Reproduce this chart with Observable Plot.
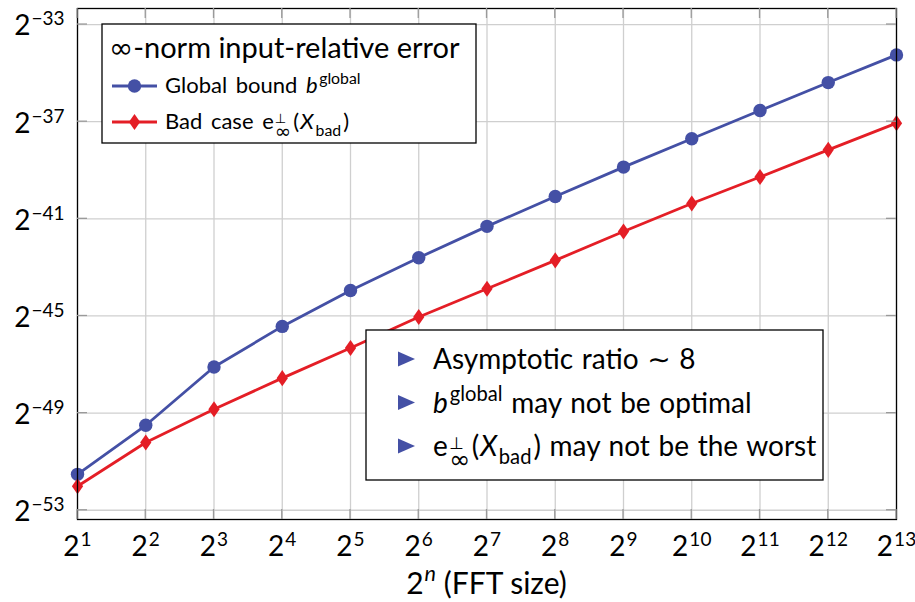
<!DOCTYPE html>
<html>
<head>
<meta charset="utf-8">
<script src="https://cdn.jsdelivr.net/npm/d3@7"></script>
<script src="https://cdn.jsdelivr.net/npm/@observablehq/plot@0.6"></script>
<style>
  html, body { margin: 0; padding: 0; background: #fff; }
  #chart { width: 915px; height: 602px; }
  #chart svg { display: block; }
</style>
</head>
<body>
<div id="chart"></div>
<script>
// FFT size exponents n (x = 2^n) and log2 of the error values
const fftExponents = [1, 2, 3, 4, 5, 6, 7, 8, 9, 10, 11, 12, 13];
const globalBoundLog2 = [-51.52, -49.50, -47.10, -45.43, -43.95, -42.60, -41.31, -40.08, -38.87, -37.70, -36.54, -35.39, -34.25];
const badCaseLog2 = [-52.01, -50.21, -48.84, -47.56, -46.32, -45.04, -43.88, -42.71, -41.52, -40.37, -39.28, -38.16, -37.06];
const yTickExponents = [-53, -49, -45, -41, -37, -33];
const xTickExponents = [1, 2, 3, 4, 5, 6, 7, 8, 9, 10, 11, 12, 13];

// Text pieces: t = text, it = italic, pos = sup/sub/top/bot, under = stack below previous script, sym = symbol font
const legendTitle = [{t: "∞", sym: true}, {t: "-norm input-relative error"}];
const seriesNames = [
  [{t: "Global bound "}, {t: "b", it: true}, {t: "global", pos: "sup", dx: 1.5}],
  [{t: "Bad case "}, {t: "e"}, {t: "⊥", pos: "top", sym: true, dx: 1}, {t: "∞", pos: "bot", sym: true, under: true},
   {t: "(", dx: 2}, {t: "X", it: true, dx: 1}, {t: "bad", pos: "sub", dx: 2}, {t: ")", dx: 2}]
];
const noteLines = [
  [{t: "Asymptotic ratio "}, {t: "∼", sym: true}, {t: " 8"}],
  [{t: "b", it: true}, {t: "global", pos: "sup", dx: 2}, {t: " may not be optimal"}],
  [{t: "e"}, {t: "⊥", pos: "top", sym: true, dx: 1.5}, {t: "∞", pos: "bot", sym: true, under: true},
   {t: "(", dx: 1.5}, {t: "X", it: true, dx: 1}, {t: "bad", pos: "sub", dx: 1.5}, {t: ")", dx: 2}, {t: " may not be the worst"}]
];
const xAxisTitle = [{t: "2"}, {t: "n", it: true, pos: "sup", dx: 1}, {t: " (FFT size)"}];

const FONT = "Lato, 'DejaVu Sans', sans-serif";
const SYMFONT = "'DejaVu Sans', sans-serif";
const BLUE = "#4450a5";
const RED = "#e41e26";
const GRID = "#cfcfcf";

const rows = fftExponents.map((n, i) => ({n, global: globalBoundLog2[i], bad: badCaseLog2[i]}));

// pgfplots-style diamond: taller than wide
const tallDiamond = {
  draw(context, size) {
    const r = Math.sqrt(size / Math.PI);
    const hh = 1.2 * r, hw = 0.84 * r;
    context.moveTo(0, -hh);
    context.lineTo(hw, 0);
    context.lineTo(0, hh);
    context.lineTo(-hw, 0);
    context.closePath();
  }
};

const plot = Plot.plot({
  width: 915,
  height: 602,
  marginLeft: 77,
  marginRight: 19,
  marginTop: 8,
  marginBottom: 83,
  style: {fontFamily: FONT, fontSize: "27px", color: "#000", background: "#fff", overflow: "visible"},
  x: {domain: [1, 13]},
  y: {domain: [-53.38, -32.34]},
  marks: [
    Plot.gridX(xTickExponents, {stroke: GRID, strokeOpacity: 1, strokeWidth: 1.3}),
    Plot.gridY(yTickExponents, {stroke: GRID, strokeOpacity: 1, strokeWidth: 1.3}),
    Plot.line(rows, {x: "n", y: "global", stroke: BLUE, strokeWidth: 2.8}),
    Plot.dot(rows, {x: "n", y: "global", r: 6.7, fill: BLUE, symbol: "circle"}),
    Plot.line(rows, {x: "n", y: "bad", stroke: RED, strokeWidth: 2.8}),
    Plot.dot(rows, {x: "n", y: "bad", r: 6.7, fill: RED, symbol: tallDiamond}),
    Plot.axisX(xTickExponents, {tickSize: 0, tickPadding: 17, tickFormat: d => String(d), label: null, fontSize: 28}),
    Plot.axisY(yTickExponents, {tickSize: 0, tickPadding: 13, dy: 2, tickFormat: d => String(d), label: null, fontSize: 28}),
    Plot.frame({stroke: "#000", strokeWidth: 1.3})
  ]
});

document.getElementById("chart").appendChild(plot);

const svg = d3.select(plot);
const xs = plot.scale("x");
const ys = plot.scale("y");
const [fx0, fx1] = xs.range;
const [fy0, fy1] = ys.range; // bottom, top

// Baseline offset and size (relative to the line's font size) of each script position
const SCRIPT = {
  base: {off: 0, scale: 1},
  sup: {off: -0.42, scale: 0.72},
  sub: {off: 0.3, scale: 0.72},
  top: {off: -0.26, scale: 0.6},   // upper script of a stacked pair
  bot: {off: 0.43, scale: 0.9}     // lower script of a stacked pair
};

// Write a text line with italic / superscript / subscript pieces
function richText(parent, x, y, segs, size, anchor = "start", wordSpacing = 0) {
  const text = parent.append("text")
    .attr("x", x).attr("y", y)
    .attr("font-family", FONT)
    .attr("font-size", size)
    .attr("text-anchor", anchor)
    .attr("word-spacing", wordSpacing)
    .attr("fill", "#000");
  let cur = 0, prev = null;
  for (const s of segs) {
    const p = SCRIPT[s.pos || "base"];
    const off = p.off * size;
    const ts = text.append("tspan").attr("font-size", p.scale * size).attr("dy", off - cur).text(s.t);
    if (s.it) ts.attr("font-style", "italic");
    if (s.sym) ts.attr("font-family", SYMFONT);
    let dx = s.dx || 0;
    if (s.under && prev) dx -= prev.node().getComputedTextLength();
    if (dx) ts.attr("dx", dx);
    cur = off;
    prev = ts;
  }
  return text;
}

// Tick labels as powers of two
function powerLabels(selector, supSize, raise) {
  svg.selectAll(selector).each(function () {
    const sel = d3.select(this);
    const e = sel.text().replace("-", "\u2212");
    sel.text(null);
    sel.append("tspan").text("2");
    sel.append("tspan").attr("font-size", supSize).attr("dy", -raise).attr("dx", 1).text(e);
  });
}
powerLabels('g[aria-label="x-axis tick label"] text', 19, 10);
powerLabels('g[aria-label="y-axis tick label"] text', 19, 10);

// Short inner ticks on all four sides of the frame
const tickG = svg.append("g").attr("stroke", "#9a9a9a").attr("stroke-width", 1.3);
for (const v of xTickExponents) {
  const px = xs.apply(v);
  tickG.append("line").attr("x1", px).attr("x2", px).attr("y1", fy0).attr("y2", fy0 - 10);
  tickG.append("line").attr("x1", px).attr("x2", px).attr("y1", fy1).attr("y2", fy1 + 10);
}
for (const v of yTickExponents) {
  const py = ys.apply(v);
  tickG.append("line").attr("x1", fx0).attr("x2", fx0 + 10).attr("y1", py).attr("y2", py);
  tickG.append("line").attr("x1", fx1).attr("x2", fx1 - 10).attr("y1", py).attr("y2", py);
}

// x-axis title
richText(svg, (fx0 + fx1) / 2, 594, xAxisTitle, 30, "middle");

// Legend box (top left)
const leg = svg.append("g");
leg.append("rect").attr("x", 102).attr("y", 24).attr("width", 374).attr("height", 119)
  .attr("fill", "#fff").attr("stroke", "#000").attr("stroke-width", 1.3);
richText(leg, 109, 58, legendTitle, 29);
const legendRows = [
  {y: 86, color: BLUE, symbol: d3.symbolCircle, segs: seriesNames[0]},
  {y: 122, color: RED, symbol: tallDiamond, segs: seriesNames[1]}
];
for (const r of legendRows) {
  leg.append("line").attr("x1", 112).attr("x2", 157).attr("y1", r.y).attr("y2", r.y)
    .attr("stroke", r.color).attr("stroke-width", 2.8);
  leg.append("path").attr("transform", `translate(134.5,${r.y})`)
    .attr("d", d3.symbol(r.symbol, Math.PI * 6.7 * 6.7)()).attr("fill", r.color);
  richText(leg, 165, r.y + 7, r.segs, 22, "start", 3);
}

// Notes box (lower right)
const notes = svg.append("g");
notes.append("rect").attr("x", 366).attr("y", 330).attr("width", 457).attr("height", 150)
  .attr("fill", "#fff").attr("stroke", "#000").attr("stroke-width", 1.3);
noteLines.forEach((segs, i) => {
  const cy = 359 + i * 43.5;
  notes.append("path").attr("d", `M398,${cy - 7.5}L415,${cy}L398,${cy + 7.5}Z`).attr("fill", BLUE);
  richText(notes, 433, cy + 10, segs, 28, "start", 1.5);
});
</script>
</body>
</html>
